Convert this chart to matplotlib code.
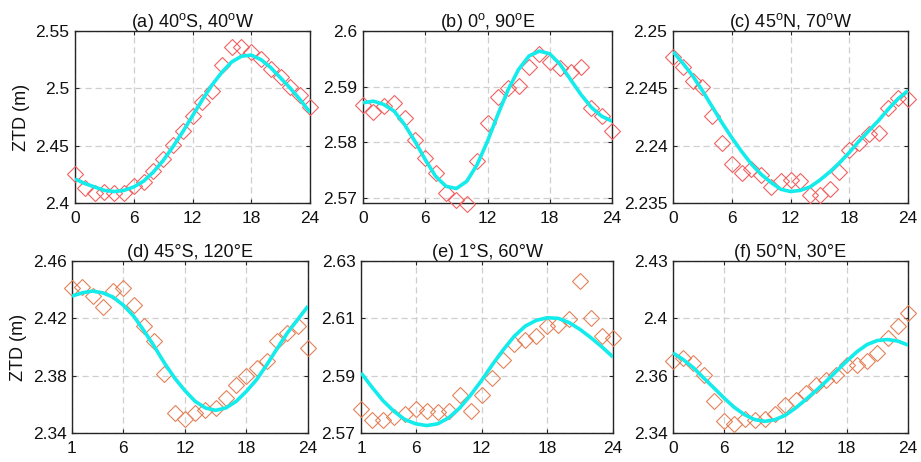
import matplotlib
matplotlib.use("Agg")
import matplotlib.pyplot as plt

plt.rcParams['font.family'] = ['Liberation Sans', 'DejaVu Sans']
plt.rcParams['mathtext.fontset'] = 'custom'
plt.rcParams['mathtext.rm'] = 'Liberation Sans'
plt.rcParams['mathtext.it'] = 'Liberation Sans:italic'

# ---------------- data ----------------
hours_a = list(range(0, 25))
hours_d = list(range(1, 25))

obs_a = [2.425, 2.413, 2.409, 2.410, 2.409, 2.409, 2.415, 2.418, 2.428, 2.438,
         2.451, 2.463, 2.476, 2.488, 2.498, 2.520, 2.536, 2.536, 2.532, 2.526,
         2.517, 2.510, 2.501, 2.494, 2.484]
fit_a = [2.421, 2.417, 2.414, 2.411, 2.410, 2.411, 2.414, 2.419, 2.427, 2.437,
         2.449, 2.462, 2.476, 2.490, 2.503, 2.514, 2.523, 2.528, 2.529, 2.525,
         2.518, 2.509, 2.500, 2.490, 2.479]

obs_b = [2.5867, 2.5854, 2.5865, 2.5871, 2.5844, 2.5805, 2.5772, 2.5745, 2.5709, 2.5696,
         2.5689, 2.5766, 2.5835, 2.5881, 2.5897, 2.5901, 2.5935, 2.5958, 2.5945, 2.5934,
         2.5926, 2.5935, 2.5861, 2.5847, 2.5821]
fit_b = [2.5871, 2.5874, 2.5868, 2.5856, 2.5832, 2.5802, 2.5769, 2.5739, 2.5721, 2.5717,
         2.5730, 2.5760, 2.5802, 2.5850, 2.5895, 2.5931, 2.5955, 2.5964, 2.5959, 2.5940,
         2.5913, 2.5886, 2.5863, 2.5847, 2.5838]

obs_c = [2.2477, 2.2469, 2.2456, 2.2451, 2.2426, 2.2402, 2.2384, 2.2376, 2.2380, 2.2374,
         2.2364, 2.2369, 2.2370, 2.2369, 2.2357, 2.2357, 2.2362, 2.2377, 2.2396, 2.2402,
         2.2410, 2.2411, 2.2433, 2.2442, 2.2441]
fit_c = [2.2482, 2.2472, 2.2461, 2.2448, 2.2434, 2.2420, 2.2407, 2.2395, 2.2384, 2.2375,
         2.2368, 2.2362, 2.2360, 2.2361, 2.2364, 2.2370, 2.2377, 2.2385, 2.2394, 2.2404,
         2.2413, 2.2422, 2.2432, 2.2441, 2.2448]

obs_d = [2.4409, 2.4418, 2.4355, 2.4278, 2.4390, 2.4409, 2.4292, 2.4146, 2.4041, 2.3812,
         2.3540, 2.3500, 2.3540, 2.3563, 2.3575, 2.3645, 2.3738, 2.3796, 2.3854, 2.3901,
         2.4041, 2.4099, 2.4146, 2.3994]
fit_d = [2.4355, 2.4378, 2.4390, 2.4378, 2.4348, 2.4292, 2.4216, 2.4115, 2.4006, 2.3889,
         2.3784, 2.3696, 2.3621, 2.3575, 2.3558, 2.3575, 2.3621, 2.3691, 2.3773, 2.3878,
         2.3990, 2.4099, 2.4192, 2.4285]

obs_e = [2.5782, 2.5747, 2.5747, 2.5755, 2.5767, 2.5782, 2.5776, 2.5773, 2.5778, 2.5832,
         2.5776, 2.5834, 2.5892, 2.5956, 2.6009, 2.6026, 2.6038, 2.6073, 2.6076, 2.6096,
         2.6230, 2.6100, 2.6038, 2.6030]
fit_e = [2.5910, 2.5860, 2.5813, 2.5776, 2.5747, 2.5732, 2.5726, 2.5732, 2.5753, 2.5787,
         2.5832, 2.5883, 2.5939, 2.5991, 2.6038, 2.6073, 2.6093, 2.6102, 2.6100, 2.6085,
         2.6061, 2.6032, 2.6000, 2.5965]

obs_f = [2.3776, 2.3793, 2.3767, 2.3706, 2.3566, 2.3461, 2.3447, 2.3475, 2.3470, 2.3475,
         2.3499, 2.3545, 2.3575, 2.3610, 2.3650, 2.3679, 2.3706, 2.3758, 2.3755, 2.3776,
         2.3819, 2.3898, 2.3959, 2.4029]
fit_f = [2.3819, 2.3784, 2.3741, 2.3688, 2.3636, 2.3583, 2.3534, 2.3496, 2.3470, 2.3461,
         2.3470, 2.3493, 2.3531, 2.3575, 2.3622, 2.3671, 2.3724, 2.3776, 2.3825, 2.3863,
         2.3884, 2.3889, 2.3881, 2.3860]

titles = [r'(a) 40$^{\rm o}$S, 40$^{\rm o}$W', r'(b) 0$^{\rm o}$, 90$^{\rm o}$E',
          r'(c) 45$^{\rm o}$N, 70$^{\rm o}$W', '(d) 45°S, 120°E', '(e) 1°S, 60°W',
          '(f) 50°N, 30°E']

xticks_top = [0, 6, 12, 18, 24]
xticks_bot = [1, 6, 12, 18, 24]
xlabels_top = ['0', '6', '12', '18', '24']
xlabels_d = ['1', '6', '12', '18', '24']
xlabels_f = ['0', '6', '12', '18', '24']

yticks_a = [2.40, 2.45, 2.50, 2.55]; ylabels_a = ['2.4', '2.45', '2.5', '2.55']
yticks_b = [2.57, 2.58, 2.59, 2.60]; ylabels_b = ['2.57', '2.58', '2.59', '2.6']
yticks_c = [2.235, 2.240, 2.245, 2.250]; ylabels_c = ['2.235', '2.24', '2.245', '2.25']
yticks_d = [2.34, 2.38, 2.42, 2.46]; ylabels_d = ['2.34', '2.38', '2.42', '2.46']
yticks_e = [2.57, 2.59, 2.61, 2.63]; ylabels_e = ['2.57', '2.59', '2.61', '2.63']
yticks_f = [2.34, 2.37, 2.40, 2.43]; ylabels_f = ['2.34', '2.36', '2.4', '2.43']

# ---------------- figure ----------------
fig = plt.figure(figsize=(9.21, 4.62), dpi=100)
W, H = 921.0, 462.0

def rect(x0, x1, ytop, ybot):
    return [x0 / W, 1 - ybot / H, (x1 - x0) / W, (ybot - ytop) / H]

panels = [
    dict(r=rect(75, 310, 31, 203), x=hours_a, o=obs_a, f=fit_a, xl=(0, 24), yl=(2.40, 2.55),
         xt=xticks_top, xtl=xlabels_top, yt=yticks_a, ytl=ylabels_a, mc='#F06262'),
    dict(r=rect(363, 612, 31, 203), x=hours_a, o=obs_b, f=fit_b, xl=(0, 24), yl=(2.5691, 2.60),
         xt=xticks_top, xtl=xlabels_top, yt=yticks_b, ytl=ylabels_b, mc='#F06262'),
    dict(r=rect(673, 908, 31, 203), x=hours_a, o=obs_c, f=fit_c, xl=(0, 24), yl=(2.235, 2.25),
         xt=xticks_top, xtl=xlabels_top, yt=yticks_c, ytl=ylabels_c, mc='#F06262'),
    dict(r=rect(72, 308, 261, 433), x=hours_d, o=obs_d, f=fit_d, xl=(1, 24), yl=(2.34, 2.46),
         xt=xticks_bot, xtl=xlabels_d, yt=yticks_d, ytl=ylabels_d, mc='#E2825A'),
    dict(r=rect(361, 613, 261, 433), x=hours_d, o=obs_e, f=fit_e, xl=(1, 24), yl=(2.57, 2.63),
         xt=xticks_bot, xtl=xlabels_d, yt=yticks_e, ytl=ylabels_e, mc='#E2825A'),
    dict(r=rect(673, 908, 261, 433), x=hours_d, o=obs_f, f=fit_f, xl=(1, 24), yl=(2.34, 2.43),
         xt=xticks_bot, xtl=xlabels_f, yt=yticks_f, ytl=ylabels_f, mc='#E2825A'),
]

edge = '#262626'
for i, p in enumerate(panels):
    ax = fig.add_axes(p['r'])
    ax.set_axisbelow(True)
    ax.grid(True, color='#cfcfcf', linestyle=(0, (5, 3)), linewidth=0.9)
    ax.plot(p['x'], p['o'], linestyle='none', marker='D', markersize=8.4,
            markerfacecolor='none', markeredgecolor=p['mc'], markeredgewidth=0.8,
            clip_on=False, zorder=3)
    ax.plot(p['x'], p['f'], color='#14EBEB', linewidth=2.6, zorder=4,
            solid_capstyle='butt', solid_joinstyle='round')
    ax.set_xlim(*p['xl'])
    ax.set_ylim(*p['yl'])
    ax.set_xticks(p['xt'])
    ax.set_xticklabels(p['xtl'])
    ax.set_yticks(p['yt'])
    ax.set_yticklabels(p['ytl'])
    ax.tick_params(direction='in', length=3, width=0.8, top=True, right=True,
                   labelsize=12.5, colors=edge, labelcolor='#111111')
    ax.tick_params(axis='x', pad=6)
    ax.tick_params(axis='y', pad=4)
    for s in ax.spines.values():
        s.set_color(edge)
        s.set_linewidth(1.0)
    ax.set_title(titles[i], fontsize=13, pad=3, color='#111111')
    if i in (0, 3):
        ax.set_ylabel('ZTD (m)', fontsize=13, labelpad=4, color='#111111')

fig.savefig('out.png', dpi=100)
